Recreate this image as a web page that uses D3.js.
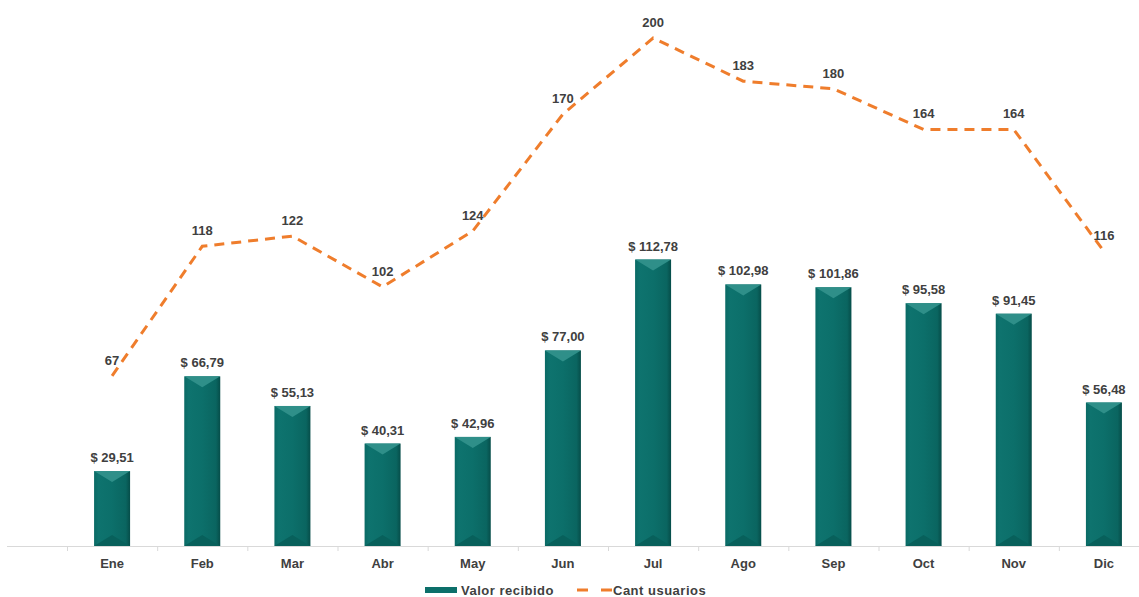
<!DOCTYPE html>
<html>
<head>
<meta charset="utf-8">
<script src="https://cdn.jsdelivr.net/npm/d3@7"></script>
<style>
	body{margin:0;background:#fff;}
	svg{display:block;font-family:"Liberation Sans",Arial,sans-serif;}
	.label{font-size:13px;font-weight:bold;fill:#404040;}
	.legendText{font-size:13px;font-weight:bold;fill:#404040;letter-spacing:0.5px;}
</style>
</head>
<body>
<script>
//chart data
var months = ["Ene","Feb","Mar","Abr","May","Jun","Jul","Ago","Sep","Oct","Nov","Dic"];
var valorRecibido = [29.51,66.79,55.13,40.31,42.96,77.00,112.78,102.98,101.86,95.58,91.45,56.48];
var cantUsuarios = [67,118,122,102,124,170,200,183,180,164,164,116];

window.onload = setChart();

function setChart(){
	//frame dimensions
	var width = 1139,
		height = 597,
		baseline = 546;

	var svg = d3.select("body")
		.append("svg")
		.attr("width", width)
		.attr("height", height);

	//gradient for bar body
	var defs = svg.append("defs");
	var grad = defs.append("linearGradient")
		.attr("id","barGrad")
		.attr("x1","0").attr("x2","1").attr("y1","0").attr("y2","0");
	grad.append("stop").attr("offset","0").attr("stop-color","#0a6a65");
	grad.append("stop").attr("offset","0.12").attr("stop-color","#0e736e");
	grad.append("stop").attr("offset","0.5").attr("stop-color","#0c6f6a");
	grad.append("stop").attr("offset","0.88").attr("stop-color","#0a6560");
	grad.append("stop").attr("offset","1").attr("stop-color","#064d49");

	//x band scale, one band per month
	var x = d3.scaleBand()
		.domain(months)
		.range([67, 1149])
		.padding(0);

	//shared y scale for bars and line
	var y = d3.scaleLinear()
		.domain([0, 200])
		.range([baseline, 38]);

	var barWidth = 36;

	//axis line and ticks
	svg.append("line")
		.attr("x1", 7)
		.attr("x2", width)
		.attr("y1", baseline + 0.5)
		.attr("y2", baseline + 0.5)
		.attr("stroke", "#d9d9d9")
		.attr("stroke-width", 1);

	var tickPos = [x.range()[0] - x.bandwidth()].concat(months.map(function(m){ return x(m); }));
	svg.selectAll(".tick")
		.data(tickPos)
		.enter()
		.append("line")
		.attr("x1", function(d){ return d + 0.5; })
		.attr("x2", function(d){ return d + 0.5; })
		.attr("y1", baseline)
		.attr("y2", baseline + 5)
		.attr("stroke", "#d9d9d9");

	//bars
	var bars = svg.selectAll(".bar")
		.data(valorRecibido)
		.enter()
		.append("g")
		.attr("class","bar");

	bars.append("rect")
		.attr("x", function(d,i){ return x(months[i]) + x.bandwidth()/2 - barWidth/2; })
		.attr("y", function(d){ return y(d); })
		.attr("width", barWidth)
		.attr("height", function(d){ return baseline - y(d); })
		.attr("fill", "url(#barGrad)");

	//top bevel (lighter)
	bars.append("path")
		.attr("d", function(d,i){
			var x0 = x(months[i]) + x.bandwidth()/2 - barWidth/2,
				x1 = x0 + barWidth,
				xc = x0 + barWidth/2,
				t = y(d);
			return "M" + x0 + "," + t + "L" + x1 + "," + t + "L" + xc + "," + (t + 11) + "Z";
		})
		.attr("fill", "#2f8f89");

	//bottom bevel (darker)
	bars.append("path")
		.attr("d", function(d,i){
			var x0 = x(months[i]) + x.bandwidth()/2 - barWidth/2,
				x1 = x0 + barWidth,
				xc = x0 + barWidth/2;
			return "M" + x0 + "," + baseline + "L" + x1 + "," + baseline + "L" + xc + "," + (baseline - 11) + "Z";
		})
		.attr("fill", "#08605b");

	//bar value labels
	svg.selectAll(".barLabel")
		.data(valorRecibido)
		.enter()
		.append("text")
		.attr("class","label")
		.attr("text-anchor","middle")
		.attr("x", function(d,i){ return x(months[i]) + x.bandwidth()/2; })
		.attr("y", function(d){ return y(d) - 9; })
		.text(function(d){ return "$ " + d.toFixed(2).replace(".", ","); });

	//dashed line for users
	var line = d3.line()
		.x(function(d,i){ return x(months[i]) + x.bandwidth()/2; })
		.y(function(d){ return y(d); });

	svg.append("path")
		.datum(cantUsuarios)
		.attr("d", line)
		.attr("fill","none")
		.attr("stroke","#ef7d2c")
		.attr("stroke-width",3)
		.attr("stroke-dasharray","10,7");

	//line value labels
	svg.selectAll(".lineLabel")
		.data(cantUsuarios)
		.enter()
		.append("text")
		.attr("class","label")
		.attr("text-anchor","middle")
		.attr("x", function(d,i){ return x(months[i]) + x.bandwidth()/2; })
		.attr("y", function(d){ return y(d) - 11; })
		.text(function(d){ return d; });

	//month labels
	svg.selectAll(".monthLabel")
		.data(months)
		.enter()
		.append("text")
		.attr("class","label")
		.attr("text-anchor","middle")
		.attr("x", function(d){ return x(d) + x.bandwidth()/2; })
		.attr("y", baseline + 22)
		.text(function(d){ return d; });

	//legend
	var legend = svg.append("g")
		.attr("transform","translate(425,590)");

	legend.append("rect")
		.attr("x",0)
		.attr("y",-3)
		.attr("width",32)
		.attr("height",6)
		.attr("fill","#0c6f6a");

	legend.append("text")
		.attr("class","legendText")
		.attr("x",36)
		.attr("y",4.5)
		.text("Valor recibido");

	legend.append("line")
		.attr("x1",152)
		.attr("x2",187)
		.attr("y1",0)
		.attr("y2",0)
		.attr("stroke","#ef7d2c")
		.attr("stroke-width",3)
		.attr("stroke-dasharray","11,13");

	legend.append("text")
		.attr("class","legendText")
		.attr("x",188)
		.attr("y",4.5)
		.text("Cant usuarios");
};
</script>
</body>
</html>
